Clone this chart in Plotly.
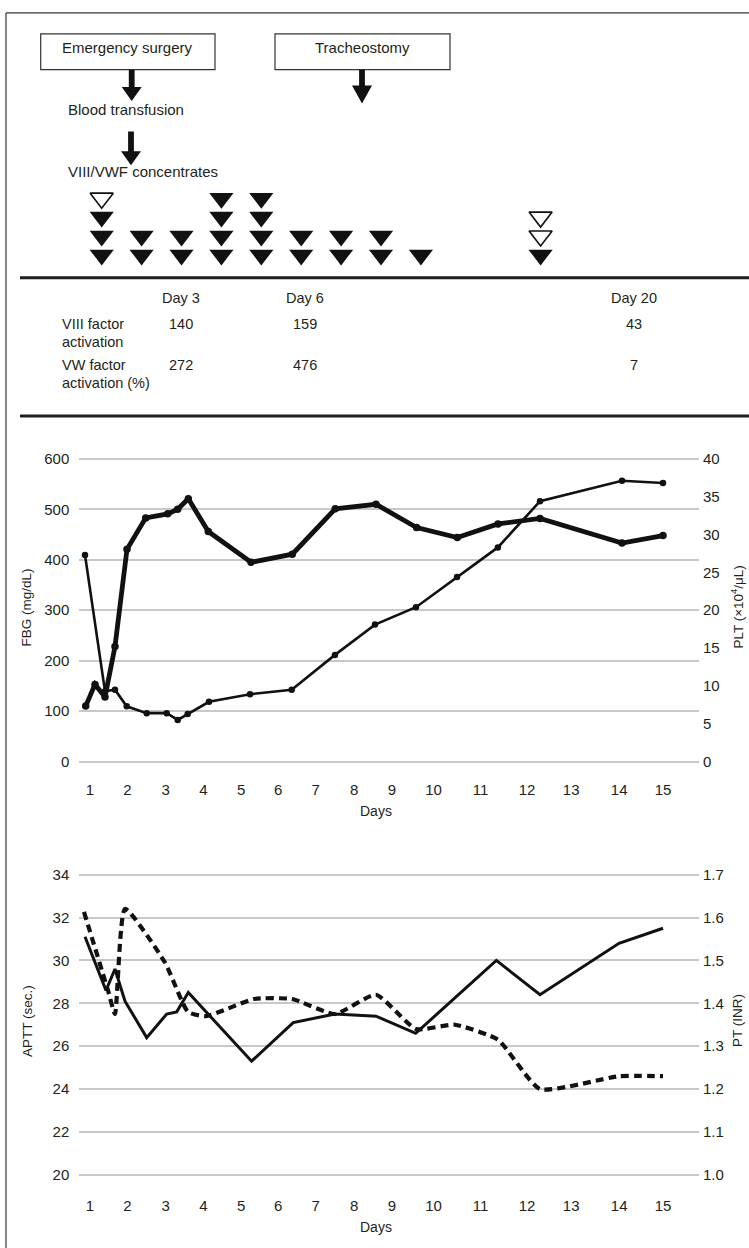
import plotly.graph_objects as go

W, H = 749, 1248

# ---------------- data ----------------
day_labels = [str(d) for d in range(1, 16)]
day_tick_pos = [1.00, 1.99, 3.00, 4.00, 5.00, 5.98, 6.97, 7.99, 8.99, 10.09, 11.33, 12.56, 13.73, 15.00, 16.16]

fbg_day = [0.886, 1.132, 1.397, 1.661, 1.979, 2.474, 3.056, 3.320, 3.601, 4.130,
           5.259, 6.352, 7.489, 8.566, 9.640, 10.717, 11.794, 12.905, 15.074, 16.159]
fbg_val = [110, 153, 128, 228, 421, 483, 491, 500, 521, 456,
           395, 411, 501, 510, 464, 444, 471, 482, 433, 448]

plt_day = [0.868, 1.397, 1.661, 1.971, 2.500, 3.029, 3.320, 3.585, 4.148, 5.233,
           6.336, 7.480, 8.540, 9.624, 10.710, 11.790, 12.905, 15.074, 16.159]
plt_val = [27.3, 9.3, 9.5, 7.3, 6.4, 6.4, 5.5, 6.3, 7.9, 8.9,
           9.5, 14.1, 18.1, 20.4, 24.4, 28.3, 34.4, 37.1, 36.8]

aptt_day = [0.868, 1.423, 1.661, 1.926, 2.500, 3.029, 3.294, 3.601, 5.275, 6.376,
            7.481, 8.566, 9.616, 11.750, 12.905, 14.995, 16.159]
aptt_val = [31.1, 28.6, 29.6, 28.1, 26.4, 27.5, 27.6, 28.5, 25.3, 27.1,
            27.5, 27.4, 26.6, 30.0, 28.4, 30.8, 31.5]

pt_day = [0.841, 1.476, 1.661, 1.926, 2.984, 3.593, 4.069, 5.339, 6.344, 7.481,
          8.566, 9.624, 10.656, 11.794, 12.905, 14.995, 16.159]
pt_val = [1.613, 1.43, 1.375, 1.62, 1.495, 1.38, 1.37, 1.41, 1.41, 1.375,
          1.42, 1.34, 1.35, 1.315, 1.20, 1.23, 1.23]

vwf_day = [1, 2, 3, 4, 5, 6, 7, 8, 9, 12]
vwf_filled = [3, 2, 2, 4, 4, 2, 2, 2, 1, 1]
vwf_open = [1, 0, 0, 0, 0, 0, 0, 0, 0, 2]

table_days = ["Day 3", "Day 6", "Day 20"]
viii_activation = ["140", "159", "43"]
vw_activation = ["272", "476", "7"]

# ---------------- style ----------------
COND = "Liberation Sans, Arial, sans-serif"
REG = "Liberation Sans, Arial, sans-serif"
TXT = "#231f20"
LINE = "#111111"
GRID = "#c8c8c8"


def px2x(px):
    return px / W


def px2y(py):
    return 1 - py / H


fig = go.Figure()

# ---- VIII/VWF concentrate doses (triangles) ----
fx, fy, ox, oy = [], [], [], []
for d, nf, no in zip(vwf_day, vwf_filled, vwf_open):
    for k in range(nf):
        fx.append(d)
        fy.append(k + 1)
    for k in range(no):
        ox.append(d)
        oy.append(nf + k + 1)

fig.add_trace(go.Scatter(x=fx, y=fy, mode="markers", xaxis="x3", yaxis="y5", cliponaxis=False,
                         marker=dict(symbol="triangle-down", size=21, color=LINE, line=dict(width=0)),
                         hoverinfo="skip"))
fig.add_trace(go.Scatter(x=ox, y=oy, mode="markers", xaxis="x3", yaxis="y5", cliponaxis=False,
                         marker=dict(symbol="triangle-down", size=20, color="white",
                                     line=dict(width=1.6, color=LINE)),
                         hoverinfo="skip"))

# ---- chart 1 ----
fig.add_trace(go.Scatter(x=fbg_day, y=fbg_val, mode="lines+markers", xaxis="x", yaxis="y",
                         line=dict(color=LINE, width=4.8), marker=dict(size=7.5, color=LINE),
                         name="FBG"))
fig.add_trace(go.Scatter(x=plt_day, y=plt_val, mode="lines+markers", xaxis="x", yaxis="y2",
                         line=dict(color=LINE, width=2.6), marker=dict(size=6.5, color=LINE),
                         name="PLT"))

# ---- chart 2 ----
fig.add_trace(go.Scatter(x=aptt_day, y=aptt_val, mode="lines", xaxis="x2", yaxis="y3",
                         line=dict(color=LINE, width=3), name="APTT"))
fig.add_trace(go.Scatter(x=pt_day, y=pt_val, mode="lines", xaxis="x2", yaxis="y4",
                         line=dict(color=LINE, width=4.2, dash="8px,5px", shape="spline", smoothing=0.5),
                         name="PT"))

xdom = [79.3 / W, 699 / W]
xr = [0.717, 17.111]
tickfont = dict(family=COND, size=15, color=TXT)

common_x = dict(domain=xdom, range=xr, tickmode="array", tickvals=day_tick_pos, ticktext=day_labels,
                showgrid=False, zeroline=False, showline=False, ticks="", tickfont=tickfont,
                fixedrange=True)

fig.update_layout(
    width=W, height=H, margin=dict(l=0, r=0, t=0, b=0),
    paper_bgcolor="white", plot_bgcolor="rgba(0,0,0,0)", showlegend=False,
    xaxis=dict(common_x, anchor="y"),
    yaxis=dict(domain=[px2y(777.0), px2y(452.5)], range=[-35, 605], anchor="x",
               tickmode="array", tickvals=list(range(0, 601, 100)),
               showgrid=True, gridcolor=GRID, gridwidth=2, zeroline=False, showline=False,
               ticks="", tickfont=tickfont, ticklabelstandoff=9, fixedrange=True),
    yaxis2=dict(overlaying="y", side="right", anchor="x", range=[-35 / 15, 605 / 15],
                tickmode="array", tickvals=list(range(0, 41, 5)),
                showgrid=False, zeroline=False, showline=False, ticks="", tickfont=tickfont,
                ticklabelstandoff=3, fixedrange=True),
    xaxis2=dict(common_x, anchor="y3"),
    yaxis3=dict(domain=[px2y(1195), px2y(868.5)], range=[19.05, 34.2], anchor="x2",
                tickmode="array", tickvals=list(range(20, 35, 2)),
                showgrid=True, gridcolor=GRID, gridwidth=2, zeroline=False, showline=False,
                ticks="", tickfont=tickfont, ticklabelstandoff=9, fixedrange=True),
    yaxis4=dict(overlaying="y3", side="right", anchor="x2", range=[0.9525, 1.71],
                tickmode="array", tickvals=[1.0, 1.1, 1.2, 1.3, 1.4, 1.5, 1.6, 1.7],
                ticktext=["1.0", "1.1", "1.2", "1.3", "1.4", "1.5", "1.6", "1.7"],
                showgrid=False, zeroline=False, showline=False, ticks="", tickfont=tickfont,
                ticklabelstandoff=3, fixedrange=True),
    xaxis3=dict(domain=[0, 1], range=[-1.549, 17.223], visible=False, anchor="y5", fixedrange=True),
    yaxis5=dict(domain=[px2y(271), px2y(176)], range=[-0.1, 4.9], visible=False, anchor="x3",
                fixedrange=True),
)

shapes = []
# outer frame
shapes.append(dict(type="line", xref="paper", yref="paper", x0=px2x(6), x1=px2x(749),
                   y0=px2y(7), y1=px2y(7), line=dict(color="#333", width=1.2)))
shapes.append(dict(type="line", xref="paper", yref="paper", x0=px2x(6), x1=px2x(6),
                   y0=px2y(7), y1=px2y(1248), line=dict(color="#333", width=1.2)))
# separators
for yy in (273, 412):
    shapes.append(dict(type="line", xref="paper", yref="paper", x0=px2x(20), x1=px2x(749),
                       y0=px2y(yy), y1=px2y(yy), line=dict(color="#1e1e1e", width=3)))
# boxes
for (x0, x1) in ((40.7, 215), (275, 450)):
    shapes.append(dict(type="rect", xref="paper", yref="paper", x0=px2x(x0), x1=px2x(x1),
                       y0=px2y(64), y1=px2y(28), line=dict(color="#333", width=1.2),
                       fillcolor="white"))


def arrow(cx, ytop, yhead, ytip, sw=5.8, hw=20):
    pts = [(cx - sw / 2, ytop), (cx + sw / 2, ytop), (cx + sw / 2, yhead), (cx + hw / 2, yhead),
           (cx, ytip), (cx - hw / 2, yhead), (cx - sw / 2, yhead)]
    p = "M " + " L ".join(f"{px2x(a):.5f},{px2y(b):.5f}" for a, b in pts) + " Z"
    return dict(type="path", xref="paper", yref="paper", path=p,
                fillcolor=LINE, line=dict(width=0))


shapes.append(arrow(131.7, 64, 81.5, 95.5))
shapes.append(arrow(362, 64, 80, 98))
shapes.append(arrow(131, 126, 146, 160))

fig.update_layout(shapes=shapes)

ann = []
DY = -4  # annotation vertical correction


def text(s, x, y, size=15, family=COND, xanchor="center", angle=0):
    ann.append(dict(text=s, x=px2x(x), y=px2y(y + DY), xref="paper", yref="paper", showarrow=False,
                    xanchor=xanchor, yanchor="middle", textangle=angle,
                    font=dict(family=family, size=size, color=TXT)))


text("Emergency surgery", 127.9, 46, size=15)
text("Tracheostomy", 362.5, 46, size=15)
text("Blood transfusion", 66, 108, size=15, xanchor="left")
text("VIII/VWF concentrates", 66, 170, size=15, xanchor="left")

# table
col_x = [181, 305, 634]
for cx, dlab, v1, v2 in zip(col_x, table_days, viii_activation, vw_activation):
    text(dlab, cx, 297, size=14.5)
    text(v1, cx, 324, size=14.5)
    text(v2, cx, 365, size=14.5)
text("VIII factor", 60, 324, size=14.5, xanchor="left")
text("activation", 60, 342, size=14.5, xanchor="left")
text("VW factor", 60, 365, size=14.5, xanchor="left")
text("activation (%)", 60, 383, size=14.5, xanchor="left")

# axis titles
text("FBG (mg/dL)", 27, 608.5, size=13.5, family=REG, angle=-90)
text("PLT (×10<sup>4</sup>/μL)", 737, 608.5, size=13.5, family=REG, angle=-90)
text("Days", 376, 813, size=14)
text("APTT (sec.)", 27, 1024, size=13.5, family=REG, angle=-90)
text("PT (INR)", 737, 1024, size=13.5, family=REG, angle=-90)
text("Days", 376, 1231, size=14)

fig.update_layout(annotations=ann)

fig.write_html("out.html", config={"displayModeBar": False},
               post_script="document.body.style.margin='0px';document.body.style.overflow='hidden';")
